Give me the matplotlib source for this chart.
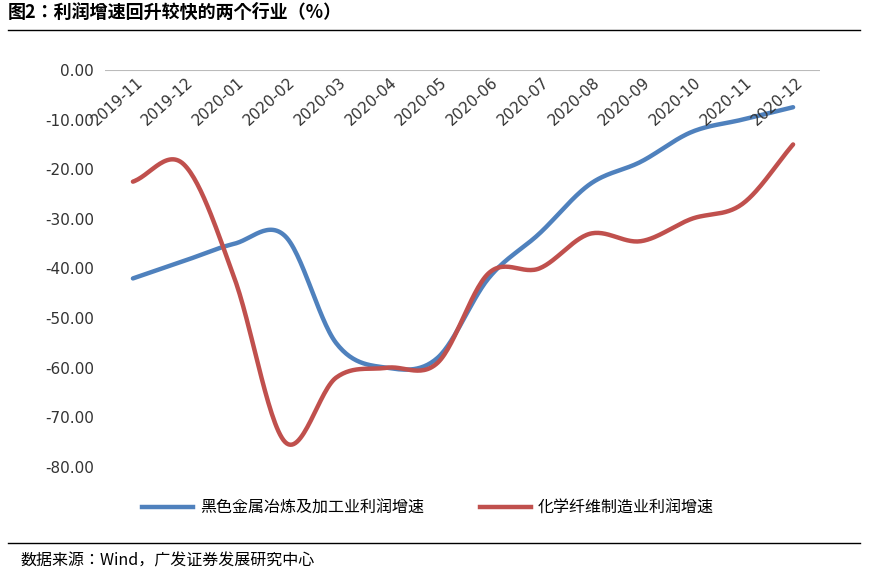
import matplotlib
matplotlib.use("Agg")
import matplotlib.pyplot as plt
from matplotlib.lines import Line2D
from matplotlib import font_manager as fm
import numpy as np

cjk = None
for f in fm.findSystemFonts():
    if 'CJK' in f and ('SC' in f or 'sc' in f.lower()) and 'Regular' in f:
        cjk = f; break
if cjk is None:
    for f in fm.findSystemFonts():
        if 'CJK' in f:
            cjk = f; break
if cjk:
    fm.fontManager.addfont(cjk)
    name = fm.FontProperties(fname=cjk).get_name()
    plt.rcParams['font.family'] = [name, 'DejaVu Sans']
else:
    plt.rcParams['font.family'] = ['Noto Sans CJK SC', 'DejaVu Sans']
plt.rcParams['font.sans-serif'] = plt.rcParams['font.family']

months = ["2019-11","2019-12","2020-01","2020-02","2020-03","2020-04","2020-05",
          "2020-06","2020-07","2020-08","2020-09","2020-10","2020-11","2020-12"]
steel = [-42, -38.5, -35, -33.5, -55, -60, -58, -42, -33, -23, -18.5, -12.5, -10, -7.5]
fiber = [-22.5, -19, -42, -75, -62, -60, -59, -41, -40, -33, -34.5, -30, -27, -15]
series_names = ["黑色金属冶炼及加工业利润增速", "化学纤维制造业利润增速"]
colors = ["#4F81BD", "#C0504D"]

def smooth(y, n=30):
    y = np.asarray(y, float)
    p = np.concatenate([[2*y[0]-y[1]], y, [2*y[-1]-y[-2]]])
    xs, ys = [], []
    for i in range(1, len(p)-2):
        t = np.linspace(0, 1, n, endpoint=False)
        p0, p1, p2, p3 = p[i-1], p[i], p[i+1], p[i+2]
        v = 0.5*((2*p1) + (-p0+p2)*t + (2*p0-5*p1+4*p2-p3)*t**2 + (-p0+3*p1-3*p2+p3)*t**3)
        xs.append(i-1+t); ys.append(v)
    xs.append([len(y)-1]); ys.append([y[-1]])
    return np.concatenate(xs), np.concatenate(ys)

W, H = 869, 579
fig = plt.figure(figsize=(W/100, H/100), dpi=100)
ax = fig.add_axes([105/W, 1-467/H, (820-105)/W, 397/H])
x = np.arange(len(months))
for ys, c in zip([steel, fiber], colors):
    sx, sy = smooth(ys)
    ax.plot(sx, sy, color=c, lw=3.2, solid_capstyle='round')
ax.set_xlim(-0.55, 13.53)
ax.set_ylim(-80, 0)
ax.set_yticks(np.arange(-80, 1, 10))
ax.set_yticklabels([f"{v:.2f}" for v in np.arange(-80, 1, 10)], fontsize=11, color="#333333",
                   fontfamily='DejaVu Sans')
ax.set_xticks(x)
ax.set_xticklabels([])
for xi, m in zip(x, months):
    ax.text(xi+0.05, -1.0, m, rotation=42, ha='right', va='top', fontsize=11,
            color="#333333", rotation_mode='anchor', fontfamily='DejaVu Sans')
ax.axhline(0, color="#BBBBBB", lw=0.8)
for s in ax.spines.values():
    s.set_visible(False)
ax.tick_params(length=0, pad=8)

handles = [Line2D([], [], color=c, lw=3.2) for c in colors]
fig.legend(handles, series_names, loc='center left', bbox_to_anchor=(128/W, 1-508/H), ncol=2,
           frameon=False, fontsize=11.5, handlelength=3.2, handletextpad=0.4, columnspacing=3.5)

fig.text(8/W, 1-12/H, "图2：利润增速回升较快的两个行业（%）", fontsize=13, fontweight='bold',
         va='center', ha='left')
fig.add_artist(Line2D([8/W, 860/W], [1-30/H, 1-30/H], color='black', lw=1))
fig.add_artist(Line2D([8/W, 860/W], [1-543/H, 1-543/H], color='black', lw=1))
fig.text(20/W, 1-561/H, "数据来源：Wind，广发证券发展研究中心", fontsize=11.5, va='center', ha='left')
fig.savefig("out.png", dpi=100)
